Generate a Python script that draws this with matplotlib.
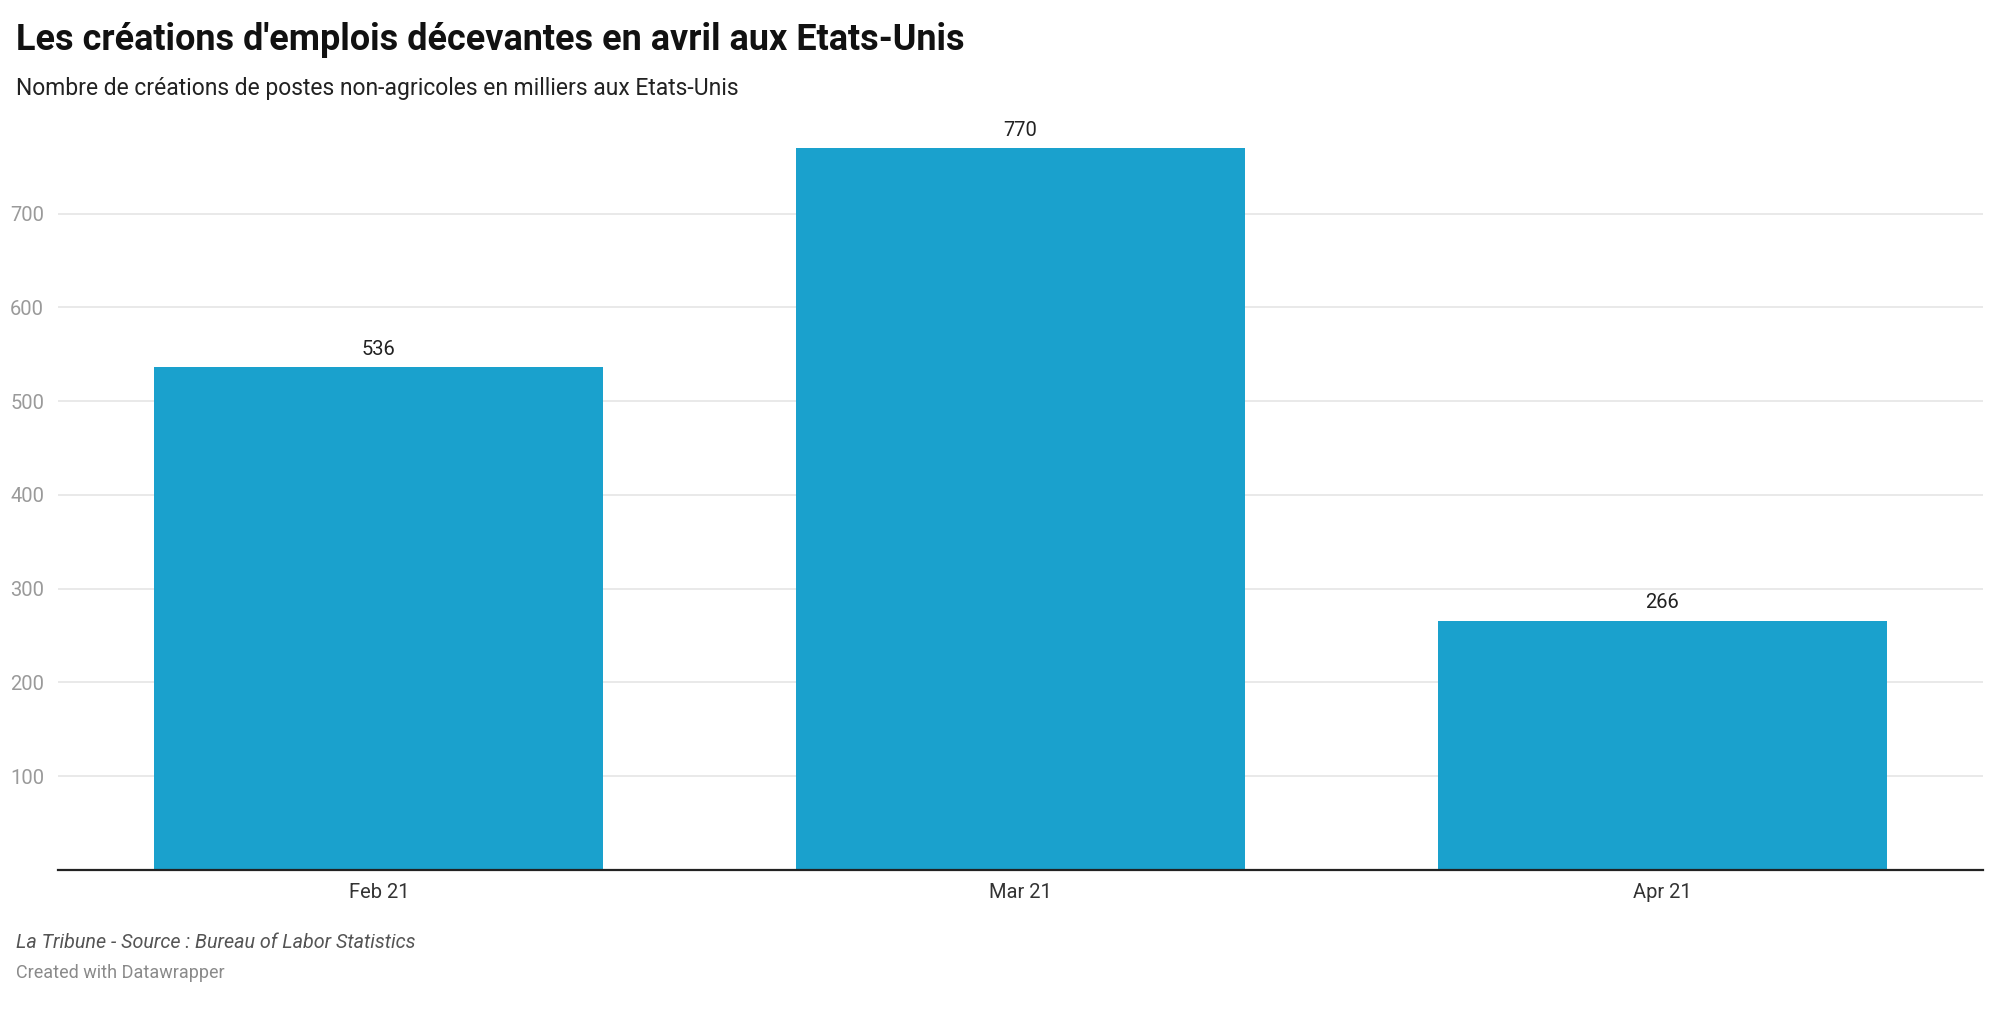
import matplotlib.pyplot as plt

plt.rcParams["font.family"] = ["Roboto", "DejaVu Sans"]

months = ["Feb 21", "Mar 21", "Apr 21"]
jobs = [536, 770, 266]
yticks = [100, 200, 300, 400, 500, 600, 700]

W, H = 2000, 1016
fig = plt.figure(figsize=(W / 100, H / 100), dpi=100)

# axes placed in pixel coords of the reference
left, right, bottom, top = 58, 1983, 870, 148
ax = fig.add_axes([left / W, 1 - bottom / H, (right - left) / W, (bottom - top) / H])

x = range(len(months))
ax.bar(x, jobs, width=0.7, color="#1aa1cd", zorder=3)
for i, v in zip(x, jobs):
    ax.annotate(str(v), (i, v), xytext=(0, 6), textcoords="offset points",
                ha="center", va="bottom", fontsize=14.5, color="#222222")

ax.set_xlim(-0.5, 2.5)
ax.set_ylim(0, 770)
ax.set_yticks(yticks)
ax.set_yticklabels([str(t) for t in yticks], fontsize=14.5, color="#9a9a9a")
ax.set_xticks(list(x))
ax.set_xticklabels(months, fontsize=14.5, color="#333333")
ax.tick_params(axis="y", length=0, pad=10)
ax.tick_params(axis="x", length=0, pad=9)
ax.grid(axis="y", color="#e3e3e3", linewidth=1.1, zorder=0)
for s in ["top", "right", "left"]:
    ax.spines[s].set_visible(False)
ax.spines["bottom"].set_color("#222222")
ax.spines["bottom"].set_linewidth(1.6)
ax.spines["bottom"].set_zorder(4)

fig.text(16 / W, 1 - 40 / H, "Les créations d'emplois décevantes en avril aux Etats-Unis",
         fontsize=25.9, fontweight="bold", color="#111111", va="center", ha="left")
fig.text(16 / W, 1 - 88 / H, "Nombre de créations de postes non-agricoles en milliers aux Etats-Unis",
         fontsize=16.5, color="#222222", va="center", ha="left")
fig.text(16 / W, 1 - 943 / H, "La Tribune - Source : Bureau of Labor Statistics",
         fontsize=14.2, style="italic", color="#555555", va="center", ha="left")
fig.text(16 / W, 1 - 973 / H, "Created with Datawrapper",
         fontsize=13, color="#8a8a8a", va="center", ha="left")

fig.savefig("out.png", dpi=100, facecolor="white")
